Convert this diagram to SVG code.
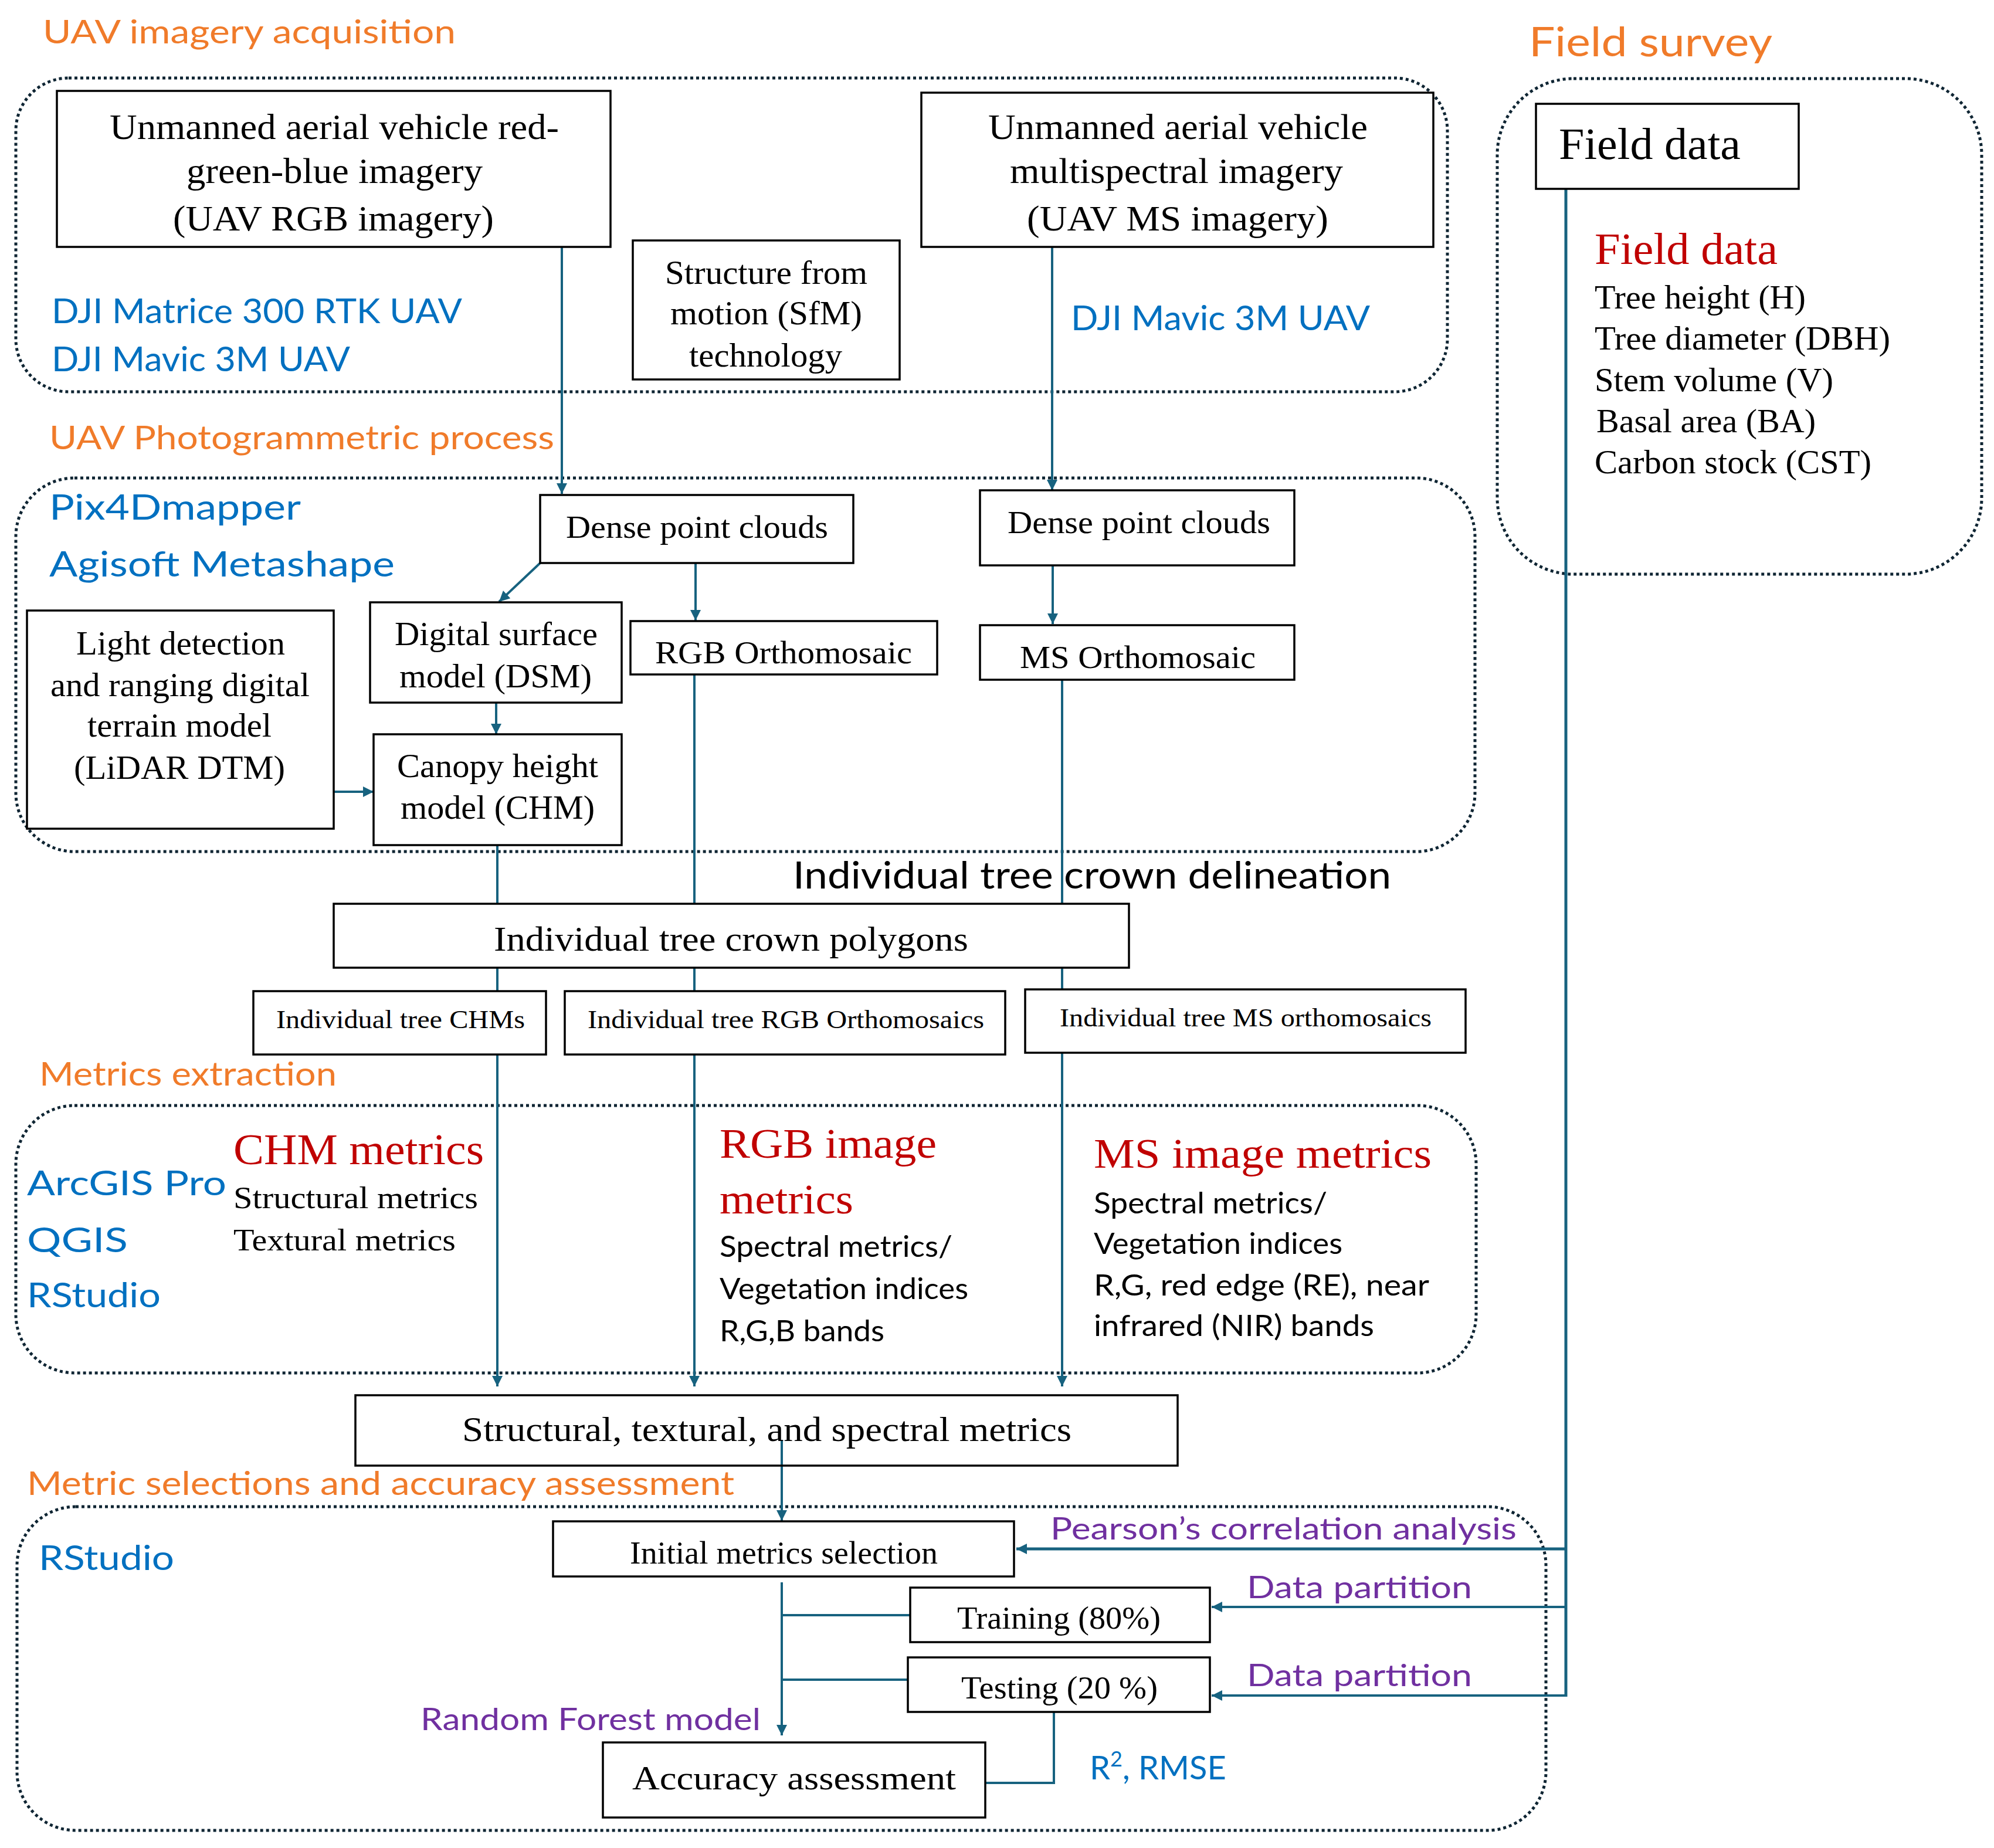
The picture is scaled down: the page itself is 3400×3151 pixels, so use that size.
<svg xmlns="http://www.w3.org/2000/svg" width="3400" height="3151" viewBox="0 0 3400 3151">
<style>
.bg{fill:#ffffff}
.zone{fill:none;stroke:#0f2533;stroke-width:5;stroke-dasharray:5 5}
.box{fill:#ffffff;stroke:#000000;stroke-width:3.5}
.boxn{fill:none;stroke:#000000;stroke-width:3.5}
.con{fill:none;stroke:#17627f;stroke-width:4}
.conw{fill:none;stroke:#17627f;stroke-width:5}
.tm{font-family:"Liberation Serif","Times New Roman",serif;fill:#000000}
.fu{font-family:Lato,"Open Sans",sans-serif}
.or{fill:#f07b2a}
.bl{fill:#0070c0}
.pu{fill:#7030a0}
.rd{fill:#c00000}
.bk{fill:#000000}
</style>
<defs>
<marker id="ah" viewBox="0 0 10 10" refX="10" refY="5" markerWidth="22" markerHeight="18" markerUnits="userSpaceOnUse" orient="auto">
<path d="M0,0 L10,5 L0,10 z" fill="#17627f"/>
</marker>
</defs>
<rect class="bg" x="0" y="0" width="3400" height="3151"/>

<g id="zones">
<rect class="zone" x="27" y="133" width="2441" height="535" rx="90"/>
<rect class="zone" x="27" y="815" width="2488" height="637" rx="100"/>
<rect class="zone" x="27" y="1885" width="2490" height="456" rx="100"/>
<rect class="zone" x="29" y="2569" width="2607" height="552" rx="100"/>
<rect class="zone" x="2553" y="134" width="826" height="845" rx="130"/>
</g>

<g id="connectors">
<line class="con" x1="958" y1="421" x2="958" y2="842" marker-end="url(#ah)"/>
<line class="con" x1="1794" y1="421" x2="1794" y2="836" marker-end="url(#ah)"/>
<line class="con" x1="921" y1="960" x2="851" y2="1026" marker-end="url(#ah)"/>
<line class="con" x1="1186" y1="960" x2="1186" y2="1058" marker-end="url(#ah)"/>
<line class="con" x1="1795" y1="964" x2="1795" y2="1064" marker-end="url(#ah)"/>
<line class="con" x1="846" y1="1198" x2="846" y2="1252" marker-end="url(#ah)"/>
<line class="con" x1="569" y1="1350" x2="637" y2="1350" marker-end="url(#ah)"/>
<line class="con" x1="848" y1="1441" x2="848" y2="2364" marker-end="url(#ah)"/>
<line class="con" x1="1184" y1="1150" x2="1184" y2="2364" marker-end="url(#ah)"/>
<line class="con" x1="1811" y1="1159" x2="1811" y2="2364" marker-end="url(#ah)"/>
<line class="con" x1="1333" y1="2455" x2="1333" y2="2593" marker-end="url(#ah)"/>
<line class="con" x1="1333" y1="2698" x2="1333" y2="2959" marker-end="url(#ah)"/>
<line class="con" x1="1333" y1="2754" x2="1552" y2="2754"/>
<line class="con" x1="1333" y1="2864" x2="1548" y2="2864"/>
<line class="conw" x1="2670" y1="322" x2="2670" y2="2893"/>
<line class="conw" x1="2672" y1="2641" x2="1733" y2="2641" marker-end="url(#ah)"/>
<line class="con" x1="2672" y1="2740" x2="2066" y2="2740" marker-end="url(#ah)"/>
<line class="con" x1="2672" y1="2891" x2="2066" y2="2891" marker-end="url(#ah)"/>
<polyline class="con" points="1797,2919 1797,3040 1680,3040"/>
</g>

<g id="labels">
<text class="fu or" x="73" y="74" font-size="56" textLength="704" lengthAdjust="spacingAndGlyphs">UAV imagery acquisition</text>
<text class="fu or" x="2607" y="96" font-size="70" textLength="415" lengthAdjust="spacingAndGlyphs">Field survey</text>
<text class="fu bl" x="88" y="551" font-size="58" textLength="700" lengthAdjust="spacingAndGlyphs">DJI Matrice 300 RTK UAV</text>
<text class="fu bl" x="88" y="633" font-size="58" textLength="509" lengthAdjust="spacingAndGlyphs">DJI Mavic 3M UAV</text>
<text class="fu bl" x="1826" y="563" font-size="58" textLength="510" lengthAdjust="spacingAndGlyphs">DJI Mavic 3M UAV</text>
<text class="fu or" x="84" y="766" font-size="56" textLength="861" lengthAdjust="spacingAndGlyphs">UAV Photogrammetric process</text>
<text class="fu bl" x="84" y="886" font-size="60" textLength="429" lengthAdjust="spacingAndGlyphs">Pix4Dmapper</text>
<text class="fu bl" x="84" y="983" font-size="60" textLength="589" lengthAdjust="spacingAndGlyphs">Agisoft Metashape</text>
<text class="fu bk" x="1352" y="1515" font-size="64" textLength="1020" lengthAdjust="spacingAndGlyphs">Individual tree crown delineation</text>
<text class="fu or" x="67" y="1851" font-size="56" textLength="507" lengthAdjust="spacingAndGlyphs">Metrics extraction</text>
<text class="fu bl" x="46" y="2038" font-size="58" textLength="340" lengthAdjust="spacingAndGlyphs">ArcGIS Pro</text>
<text class="fu bl" x="46" y="2135" font-size="58" textLength="172" lengthAdjust="spacingAndGlyphs">QGIS</text>
<text class="fu bl" x="46" y="2229" font-size="58" textLength="228" lengthAdjust="spacingAndGlyphs">RStudio</text>
<text class="fu or" x="46" y="2549" font-size="56" textLength="1206" lengthAdjust="spacingAndGlyphs">Metric selections and accuracy assessment</text>
<text class="fu bl" x="66" y="2677" font-size="58" textLength="231" lengthAdjust="spacingAndGlyphs">RStudio</text>
<text class="fu pu" x="1791" y="2625" font-size="53" textLength="795" lengthAdjust="spacingAndGlyphs">Pearson’s correlation analysis</text>
<text class="fu pu" x="2126" y="2725" font-size="53" textLength="384" lengthAdjust="spacingAndGlyphs">Data partition</text>
<text class="fu pu" x="2126" y="2875" font-size="53" textLength="384" lengthAdjust="spacingAndGlyphs">Data partition</text>
<text class="fu pu" x="717" y="2950" font-size="53" textLength="580" lengthAdjust="spacingAndGlyphs">Random Forest model</text>
<text class="fu bl" x="1858" y="3034" font-size="56">R<tspan font-size="36" dy="-22">2</tspan><tspan dy="22">, RMSE</tspan></text>
</g>

<g id="field-data-list">
<text class="tm" x="2719" y="450" font-size="76" style="fill:#c00000" textLength="312" lengthAdjust="spacingAndGlyphs">Field data</text>
<text class="tm" x="2719" y="526" font-size="56" textLength="360" lengthAdjust="spacingAndGlyphs">Tree height (H)</text>
<text class="tm" x="2719" y="596" font-size="56" textLength="504" lengthAdjust="spacingAndGlyphs">Tree diameter (DBH)</text>
<text class="tm" x="2719" y="667" font-size="56" textLength="407" lengthAdjust="spacingAndGlyphs">Stem volume (V)</text>
<text class="tm" x="2722" y="737" font-size="56" textLength="374" lengthAdjust="spacingAndGlyphs">Basal area (BA)</text>
<text class="tm" x="2719" y="807" font-size="56" textLength="472" lengthAdjust="spacingAndGlyphs">Carbon stock (CST)</text>
</g>

<g id="chm-metrics">
<text class="tm" x="398" y="1985" font-size="74" style="fill:#c00000" textLength="427" lengthAdjust="spacingAndGlyphs">CHM metrics</text>
<text class="tm" x="398" y="2060" font-size="52" textLength="417" lengthAdjust="spacingAndGlyphs">Structural metrics</text>
<text class="tm" x="398" y="2132" font-size="52" textLength="379" lengthAdjust="spacingAndGlyphs">Textural metrics</text>
</g>

<g id="rgb-metrics">
<text class="tm" x="1227" y="1974" font-size="72" style="fill:#c00000" textLength="370" lengthAdjust="spacingAndGlyphs">RGB image</text>
<text class="tm" x="1227" y="2069" font-size="72" style="fill:#c00000" textLength="228" lengthAdjust="spacingAndGlyphs">metrics</text>
<text class="fu bk" x="1227" y="2143" font-size="50" textLength="397" lengthAdjust="spacingAndGlyphs">Spectral metrics/</text>
<text class="fu bk" x="1227" y="2215" font-size="50" textLength="424" lengthAdjust="spacingAndGlyphs">Vegetation indices</text>
<text class="fu bk" x="1227" y="2287" font-size="50" textLength="281" lengthAdjust="spacingAndGlyphs">R,G,B bands</text>
</g>

<g id="ms-metrics">
<text class="tm" x="1865" y="1991" font-size="72" style="fill:#c00000" textLength="576" lengthAdjust="spacingAndGlyphs">MS image metrics</text>
<text class="fu bk" x="1865" y="2069" font-size="50" textLength="398" lengthAdjust="spacingAndGlyphs">Spectral metrics/</text>
<text class="fu bk" x="1865" y="2138" font-size="50" textLength="424" lengthAdjust="spacingAndGlyphs">Vegetation indices</text>
<text class="fu bk" x="1865" y="2209" font-size="50" textLength="572" lengthAdjust="spacingAndGlyphs">R,G, red edge (RE), near</text>
<text class="fu bk" x="1865" y="2278" font-size="50" textLength="478" lengthAdjust="spacingAndGlyphs">infrared (NIR) bands</text>
</g>

<g id="uav-rgb">
<rect class="box" x="97" y="155" width="944" height="266"/>
<text class="tm" x="187" y="237" font-size="62" textLength="766" lengthAdjust="spacingAndGlyphs">Unmanned aerial vehicle red-</text>
<text class="tm" x="318" y="312" font-size="62" textLength="505" lengthAdjust="spacingAndGlyphs">green-blue imagery</text>
<text class="tm" x="295" y="393" font-size="62" textLength="547" lengthAdjust="spacingAndGlyphs">(UAV RGB imagery)</text>
</g>

<g id="uav-ms">
<rect class="box" x="1571" y="158" width="873" height="263"/>
<text class="tm" x="1685" y="237" font-size="62" textLength="647" lengthAdjust="spacingAndGlyphs">Unmanned aerial vehicle</text>
<text class="tm" x="1722" y="312" font-size="62" textLength="568" lengthAdjust="spacingAndGlyphs">multispectral imagery</text>
<text class="tm" x="1751" y="393" font-size="62" textLength="514" lengthAdjust="spacingAndGlyphs">(UAV MS imagery)</text>
</g>

<g id="sfm">
<rect class="box" x="1079" y="410" width="455" height="237"/>
<text class="tm" x="1134" y="484" font-size="56" textLength="345" lengthAdjust="spacingAndGlyphs">Structure from</text>
<text class="tm" x="1143" y="553" font-size="56" textLength="327" lengthAdjust="spacingAndGlyphs">motion (SfM)</text>
<text class="tm" x="1175" y="625" font-size="56" textLength="261" lengthAdjust="spacingAndGlyphs">technology</text>
</g>

<g id="field-data">
<rect class="box" x="2619" y="177" width="448" height="145"/>
<text class="tm" x="2658" y="271" font-size="76" textLength="310" lengthAdjust="spacingAndGlyphs">Field data</text>
</g>

<g id="dense-rgb">
<rect class="box" x="921" y="844" width="534" height="116"/>
<text class="tm" x="965" y="917" font-size="54" textLength="447" lengthAdjust="spacingAndGlyphs">Dense point clouds</text>
</g>

<g id="dense-ms">
<rect class="box" x="1671" y="836" width="536" height="128"/>
<text class="tm" x="1718" y="909" font-size="54" textLength="448" lengthAdjust="spacingAndGlyphs">Dense point clouds</text>
</g>

<g id="dsm">
<rect class="box" x="631" y="1027" width="429" height="171"/>
<text class="tm" x="673" y="1100" font-size="56" textLength="346" lengthAdjust="spacingAndGlyphs">Digital surface</text>
<text class="tm" x="681" y="1172" font-size="56" textLength="328" lengthAdjust="spacingAndGlyphs">model (DSM)</text>
</g>

<g id="rgb-ortho">
<rect class="box" x="1075" y="1059" width="523" height="91"/>
<text class="tm" x="1117" y="1131" font-size="54" textLength="438" lengthAdjust="spacingAndGlyphs">RGB Orthomosaic</text>
</g>

<g id="ms-ortho">
<rect class="box" x="1671" y="1066" width="536" height="93"/>
<text class="tm" x="1739" y="1139" font-size="54" textLength="402" lengthAdjust="spacingAndGlyphs">MS Orthomosaic</text>
</g>

<g id="lidar-dtm">
<rect class="box" x="46" y="1041" width="523" height="372"/>
<text class="tm" x="130" y="1116" font-size="57" textLength="356" lengthAdjust="spacingAndGlyphs">Light detection</text>
<text class="tm" x="86" y="1187" font-size="57" textLength="442" lengthAdjust="spacingAndGlyphs">and ranging digital</text>
<text class="tm" x="149" y="1256" font-size="57" textLength="314" lengthAdjust="spacingAndGlyphs">terrain model</text>
<text class="tm" x="126" y="1328" font-size="57" textLength="360" lengthAdjust="spacingAndGlyphs">(LiDAR DTM)</text>
</g>

<g id="chm">
<rect class="box" x="637" y="1252" width="423" height="189"/>
<text class="tm" x="677" y="1325" font-size="56" textLength="343" lengthAdjust="spacingAndGlyphs">Canopy height</text>
<text class="tm" x="683" y="1396" font-size="56" textLength="331" lengthAdjust="spacingAndGlyphs">model (CHM)</text>
</g>

<g id="crown-polygons">
<rect class="box" x="569" y="1541" width="1356" height="109"/>
<text class="tm" x="842" y="1621" font-size="60" textLength="809" lengthAdjust="spacingAndGlyphs">Individual tree crown polygons</text>
</g>

<g id="tree-chms">
<rect class="box" x="432" y="1690" width="499" height="108"/>
<text class="tm" x="471" y="1753" font-size="45" textLength="424" lengthAdjust="spacingAndGlyphs">Individual tree CHMs</text>
</g>

<g id="tree-rgb">
<rect class="box" x="963" y="1690" width="751" height="108"/>
<text class="tm" x="1002" y="1753" font-size="45" textLength="676" lengthAdjust="spacingAndGlyphs">Individual tree RGB Orthomosaics</text>
</g>

<g id="tree-ms">
<rect class="box" x="1748" y="1687" width="751" height="108"/>
<text class="tm" x="1807" y="1750" font-size="45" textLength="634" lengthAdjust="spacingAndGlyphs">Individual tree MS orthomosaics</text>
</g>

<g id="all-metrics">
<rect class="boxn" x="606" y="2379" width="1402" height="120"/>
<text class="tm" x="788" y="2457" font-size="60" textLength="1039" lengthAdjust="spacingAndGlyphs">Structural, textural, and spectral metrics</text>
</g>

<g id="initial-selection">
<rect class="box" x="943" y="2594" width="786" height="94"/>
<text class="tm" x="1074" y="2666" font-size="54" textLength="525" lengthAdjust="spacingAndGlyphs">Initial metrics selection</text>
</g>

<g id="training">
<rect class="box" x="1552" y="2707" width="511" height="93"/>
<text class="tm" x="1632" y="2777" font-size="54" textLength="347" lengthAdjust="spacingAndGlyphs">Training (80%)</text>
</g>

<g id="testing">
<rect class="box" x="1548" y="2826" width="515" height="93"/>
<text class="tm" x="1639" y="2896" font-size="54" textLength="335" lengthAdjust="spacingAndGlyphs">Testing (20 %)</text>
</g>

<g id="accuracy">
<rect class="box" x="1028" y="2971" width="652" height="128"/>
<text class="tm" x="1078" y="3051" font-size="58" textLength="552" lengthAdjust="spacingAndGlyphs">Accuracy assessment</text>
</g>
</svg>
